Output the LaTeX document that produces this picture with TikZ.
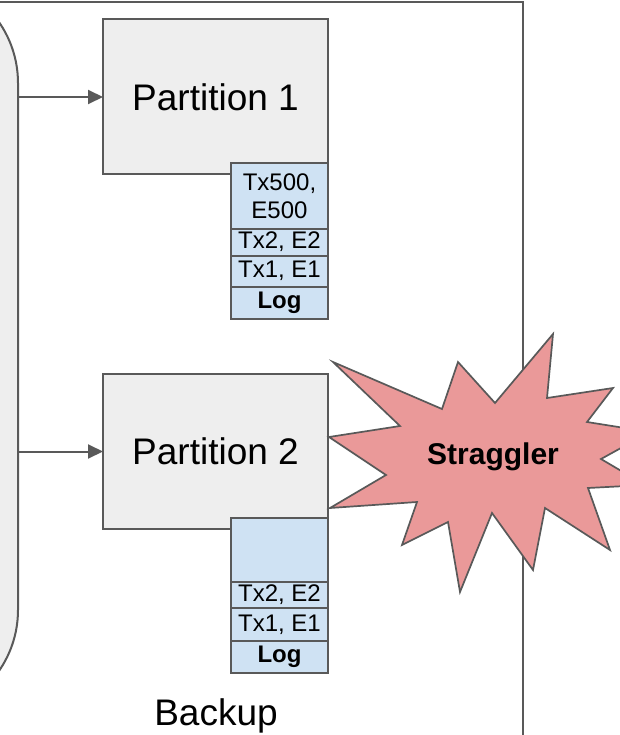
\documentclass[tikz,border=0pt]{standalone}
\usepackage{fontspec}
\setmainfont{Liberation Sans}
\usetikzlibrary{arrows.meta,positioning}
\definecolor{edgegray}{HTML}{595959}
\definecolor{boxgray}{HTML}{EEEEEE}
\definecolor{logblue}{HTML}{CFE2F3}
\definecolor{burstred}{HTML}{EA9999}
\tikzset{outline/.style={draw=edgegray, line width=2pt, outer sep=0pt}}
\tikzset{partition box/.style={outline, fill=boxgray, minimum width=225pt, minimum height=155pt, inner sep=0pt, font=\fontsize{37}{44}\selectfont}}

\begin{document}
\begin{tikzpicture}[
		x=1pt, y=-1pt,
		log cell/.style={outline, fill=logblue, minimum width=97pt, minimum height=#1, inner sep=0pt, align=center, font=\fontsize{24}{28}\selectfont},
		log cell/.default=30pt,
		feed/.style={draw=edgegray, line width=2pt, -{Triangle[length=15pt,width=14pt]}},
		burst/.style={draw=edgegray, line width=1.7pt, fill=burstred}
		]    % log cell takes its height as argument
		\clip (0,0) rectangle (620,735);
		% frame of the backup, open to the left and bottom
		\draw[edgegray, line width=2pt] (-20,2) -| (523,760);
		% big rounded box on the left
		\node[outline, fill=boxgray, rounded corners=107pt, minimum width=318pt, minimum height=741pt, inner sep=0pt] (src) at (-141,346.5) {};
		
		\node[partition box] (p1) at (215.5,97) {Partition 1};
		\node[partition box] (p2) at (215.5,451.5) {Partition 2};
		\draw[feed] (src.east |- p1.west) -- (p1.west);
		\draw[feed] (src.east |- p2.west) -- (p2.west);
		
		% log of partition 1
		\node[log cell=65pt, anchor=north east] (log1 top) at ([yshift=11pt]p1.south east) {Tx500,\\E500};
		\node[log cell=27pt, below=0pt of log1 top] (log1 e2) {Tx2, E2};
		\node[log cell=31pt, below=0pt of log1 e2] (log1 e1) {Tx1, E1};
		\node[log cell=32pt, below=0pt of log1 e1, font=\fontsize{24}{28}\selectfont\bfseries] (log1 head) {Log};
		
		% log of partition 2, top entry still empty
		\node[log cell=64pt, anchor=north east] (log2 top) at ([yshift=11pt]p2.south east) {};
		\node[log cell=26pt, below=0pt of log2 top] (log2 e2) {Tx2, E2};
		\node[log cell=33pt, below=0pt of log2 e2] (log2 e1) {Tx1, E1};
		\node[log cell=32pt, below=0pt of log2 e1, font=\fontsize{24}{28}\selectfont\bfseries] (log2 head) {Log};
		
		% the burst next to partition 2
		\draw[burst] (329,437) -- (400,426) -- (333,362) -- (442,409) -- (458,362) -- (495,403)
			-- (553,334) -- (547,398) -- (613,388) -- (587,422) -- (650,432) -- (601,459)
			-- (645,485) -- (588,488) -- (610,550) -- (545,508) -- (533,570) -- (492,513)
			-- (460,592) -- (448,522) -- (402,545) -- (417,502) -- (330,508) -- (386,475) -- cycle;
		\node[font=\fontsize{30}{36}\selectfont\bfseries] (straggler) at (493,457) {Straggler};
		
		\node[font=\fontsize{37}{44}\selectfont] (backup) at (216,716) {Backup};
	\end{tikzpicture}
\end{document}
